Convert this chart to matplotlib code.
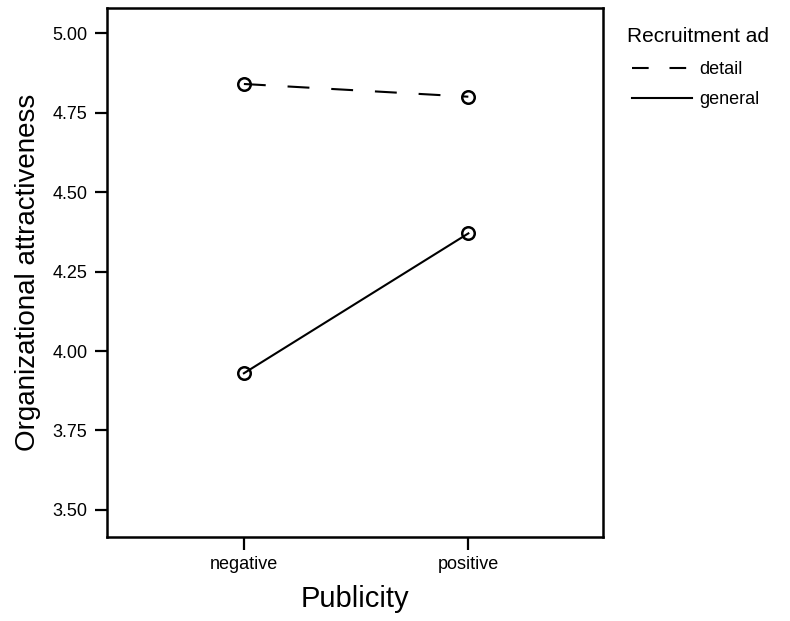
import matplotlib
matplotlib.use("Agg")
import matplotlib.pyplot as plt
from matplotlib.lines import Line2D

# data
publicity = ["negative", "positive"]
detail = [4.84, 4.80]
general = [3.93, 4.37]
y_ticks = [3.50, 3.75, 4.00, 4.25, 4.50, 4.75, 5.00]

plt.rcParams['font.family'] = ['Liberation Sans', 'DejaVu Sans']

fig = plt.figure(figsize=(7.9, 6.21), dpi=100)
ax = fig.add_axes([0.1354, 0.1353, 0.6279, 0.8518])

x = list(range(len(publicity)))
ax.plot(x, detail, color='black', lw=1.5, dashes=(10.5, 10.5),
        marker='o', ms=9, mfc='none', mec='black', mew=1.8)
ax.plot(x, general, color='black', lw=1.5,
        marker='o', ms=9, mfc='none', mec='black', mew=1.8)

ax.set_xlim(-0.61, 1.60)
ax.set_ylim(3.415, 5.079)
ax.set_xticks(x)
ax.set_xticklabels(publicity)
ax.set_yticks(y_ticks)
ax.set_yticklabels([f"{v:.2f}" for v in y_ticks])
ax.tick_params(direction='out', length=9, width=1.6, labelsize=13, pad=5)

for s in ax.spines.values():
    s.set_linewidth(1.8)

ax.set_xlabel("Publicity", fontsize=21, labelpad=8)
ax.set_ylabel("Organizational attractiveness", fontsize=20, labelpad=8)

# legend title drawn on its own so the gap to the entries matches
fig.text(627 / 790, 1 - 42 / 621, "Recruitment ad", fontsize=15, va='baseline', ha='left')
handles = [Line2D([], [], color='black', lw=1.5, dashes=(8, 10)),
           Line2D([], [], color='black', lw=1.5)]
ax.legend(handles, ["detail", "general"],
          loc='upper left', bbox_to_anchor=(632 / 790, 1 - 61 / 621),
          bbox_transform=fig.transFigure, frameon=False,
          fontsize=13, handlelength=3.3, handletextpad=0.4,
          labelspacing=0.72, borderaxespad=0, borderpad=0)

fig.savefig("out.png", dpi=100)
